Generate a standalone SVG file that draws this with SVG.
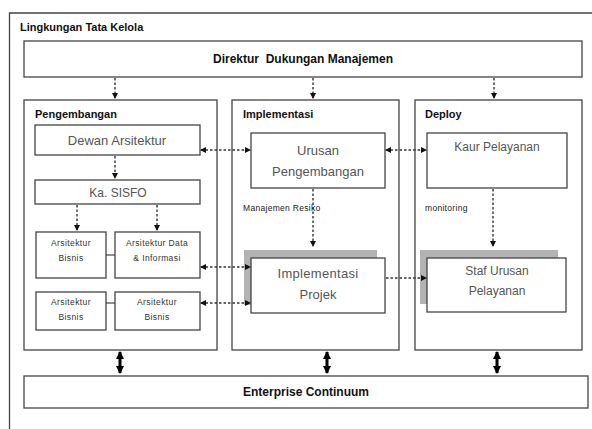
<svg xmlns="http://www.w3.org/2000/svg" width="592" height="429" viewBox="0 0 592 429">
<defs>
<marker id="ah" markerWidth="6" markerHeight="6" refX="5" refY="3" orient="auto" markerUnits="userSpaceOnUse">
<path d="M0,0 L6,3 L0,6 Z" fill="#111"/>
</marker>
<marker id="ahs" markerWidth="6" markerHeight="6" refX="1" refY="3" orient="auto" markerUnits="userSpaceOnUse">
<path d="M6,0 L0,3 L6,6 Z" fill="#111"/>
</marker>
<marker id="bh" markerWidth="10" markerHeight="8" refX="7" refY="4" orient="auto" markerUnits="userSpaceOnUse">
<path d="M0,0 L8,4 L0,8 Z" fill="#000"/>
</marker>
<marker id="bhs" markerWidth="10" markerHeight="8" refX="1" refY="4" orient="auto" markerUnits="userSpaceOnUse">
<path d="M8,0 L0,4 L8,8 Z" fill="#000"/>
</marker>
</defs>
<style>
.box{fill:#fff;stroke:#444;stroke-width:1.3}
.shadow{fill:#b3b3b3}
.title{font-family:"Liberation Sans",Arial,sans-serif;font-weight:bold;fill:#111}
.node{font-family:"Liberation Sans",Arial,sans-serif;fill:#555;text-anchor:middle}
.tiny{font-family:"Liberation Sans",Arial,sans-serif;fill:#333;text-anchor:middle;font-size:8.5px;letter-spacing:0.4px}
.small{font-family:"Liberation Sans",Arial,sans-serif;fill:#222;font-size:8.5px;letter-spacing:0.3px}
.dash{stroke:#333;stroke-width:1.4;stroke-dasharray:2.5,2;fill:none}
.thick{stroke:#000;stroke-width:3;fill:none}
.line{stroke:#444;stroke-width:1.2;fill:none}
</style>
<rect width="592" height="429" fill="#fff"/>
<g id="frame">
<path d="M9.5,429 L9.5,13 L592,13" fill="none" stroke="#444" stroke-width="1.3"/>
<text class="title" x="20" y="31" font-size="11">Lingkungan Tata Kelola</text>
</g>
<g id="direktur">
<rect class="box" x="24" y="41" width="558" height="36"/>
<text class="title" x="303" y="63" font-size="12" text-anchor="middle" style="white-space:pre">Direktur  Dukungan Manajemen</text>
</g>
<g id="pengembangan">
<rect class="box" x="24" y="100" width="193" height="250"/>
<text class="title" x="35" y="118" font-size="11">Pengembangan</text>
</g>
<g id="implementasi">
<rect class="box" x="232" y="100" width="167" height="250"/>
<text class="title" x="243" y="118" font-size="11">Implementasi</text>
</g>
<g id="deploy">
<rect class="box" x="415" y="100" width="167" height="250"/>
<text class="title" x="425" y="118" font-size="11">Deploy</text>
</g>
<g id="dewan">
<rect class="box" x="35" y="125" width="165" height="30"/>
<text class="node" x="117" y="145" font-size="13">Dewan Arsitektur</text>
</g>
<g id="kasisfo">
<rect class="box" x="35" y="180" width="165" height="24"/>
<text class="node" x="118" y="197" font-size="12">Ka. SISFO</text>
</g>
<g id="arsbisnis1">
<rect class="box" x="36" y="232" width="70" height="46"/>
<text class="tiny" x="71" y="246">Arsitektur</text>
<text class="tiny" x="71" y="261">Bisnis</text>
</g>
<g id="arsdata">
<rect class="box" x="115" y="232" width="85" height="46"/>
<text class="tiny" x="157" y="246">Arsitektur Data</text>
<text class="tiny" x="157" y="261">&amp; Informasi</text>
</g>
<g id="arsbisnis2">
<rect class="box" x="36" y="292" width="70" height="38"/>
<text class="tiny" x="71" y="305">Arsitektur</text>
<text class="tiny" x="71" y="320">Bisnis</text>
</g>
<g id="arsbisnis3">
<rect class="box" x="115" y="292" width="85" height="38"/>
<text class="tiny" x="157" y="305">Arsitektur</text>
<text class="tiny" x="157" y="320">Bisnis</text>
</g>
<g id="urusan">
<rect class="box" x="251" y="133" width="134" height="55"/>
<text class="node" x="318" y="155" font-size="13">Urusan</text>
<text class="node" x="318" y="176" font-size="13">Pengembangan</text>
</g>
<g id="kaur">
<rect class="box" x="427" y="133" width="140" height="55"/>
<text class="node" x="497" y="151" font-size="12">Kaur Pelayanan</text>
</g>
<g id="implprojek">
<rect class="shadow" x="244" y="250" width="133" height="55"/>
<rect class="box" x="251" y="258" width="134" height="55"/>
<text class="node" x="318" y="278" font-size="13" letter-spacing="0.3">Implementasi</text>
<text class="node" x="318" y="299" font-size="13">Projek</text>
</g>
<g id="staf">
<rect class="shadow" x="420" y="250" width="138" height="54"/>
<rect class="box" x="427" y="258" width="139" height="54"/>
<text class="node" x="497" y="275" font-size="12">Staf Urusan</text>
<text class="node" x="497" y="295" font-size="12">Pelayanan</text>
</g>
<g id="enterprise">
<rect class="box" x="24" y="376" width="564" height="32"/>
<text class="title" x="306" y="396" font-size="12" text-anchor="middle">Enterprise Continuum</text>
</g>
<g id="connectors">
<line class="dash" x1="115" y1="78" x2="115" y2="98" marker-end="url(#ah)"/>
<line class="dash" x1="313" y1="78" x2="313" y2="98" marker-end="url(#ah)"/>
<line class="dash" x1="494" y1="78" x2="494" y2="98" marker-end="url(#ah)"/>
<line class="dash" x1="115" y1="156" x2="115" y2="178" marker-end="url(#ah)"/>
<line class="dash" x1="77" y1="205" x2="77" y2="230" marker-end="url(#ah)"/>
<line class="dash" x1="157" y1="205" x2="157" y2="230" marker-end="url(#ah)"/>
<line class="line" x1="106" y1="255" x2="115" y2="255"/>
<line class="line" x1="106" y1="303" x2="115" y2="303"/>
<line class="dash" x1="201" y1="150" x2="250" y2="150" marker-start="url(#ahs)" marker-end="url(#ah)"/>
<line class="dash" x1="386" y1="150" x2="426" y2="150" marker-start="url(#ahs)" marker-end="url(#ah)"/>
<line class="dash" x1="313" y1="189" x2="313" y2="246" marker-end="url(#ah)"/>
<text class="small" x="243" y="211">Manajemen Resiko</text>
<line class="dash" x1="493" y1="189" x2="493" y2="246" marker-end="url(#ah)"/>
<text class="small" x="425" y="211">monitoring</text>
<line class="dash" x1="201" y1="267" x2="250" y2="267" marker-start="url(#ahs)" marker-end="url(#ah)"/>
<line class="dash" x1="201" y1="303" x2="250" y2="303" marker-start="url(#ahs)" marker-end="url(#ah)"/>
<line class="dash" x1="386" y1="278" x2="426" y2="278" marker-end="url(#ah)"/>
<line class="thick" x1="120" y1="352" x2="120" y2="373" marker-start="url(#bhs)" marker-end="url(#bh)"/>
<line class="thick" x1="327" y1="352" x2="327" y2="373" marker-start="url(#bhs)" marker-end="url(#bh)"/>
<line class="thick" x1="497" y1="352" x2="497" y2="373" marker-start="url(#bhs)" marker-end="url(#bh)"/>
</g>
</svg>
